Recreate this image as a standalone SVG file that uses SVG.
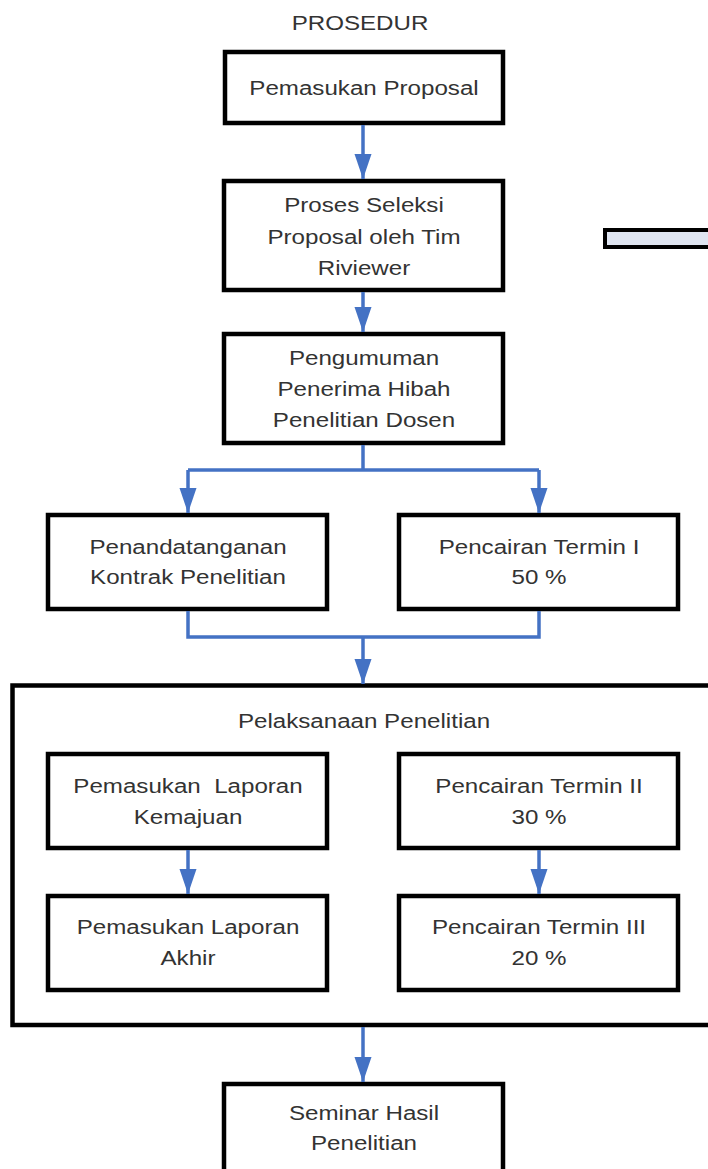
<svg xmlns="http://www.w3.org/2000/svg" width="708" height="1169" viewBox="0 0 708 1169">
<style>
.box{fill:#fff;stroke:#000;stroke-width:4.5}
.t{font-family:"Liberation Sans",Arial,sans-serif;font-size:21px;fill:#333;text-anchor:middle}
.c{fill:none;stroke:#4472C4;stroke-width:3.5}
</style>
<defs>
<marker id="ah" markerUnits="userSpaceOnUse" markerWidth="26" markerHeight="18" refX="25" refY="8.5" orient="auto">
<path d="M0,0 L25,8.5 L0,17 z" fill="#4472C4"/>
</marker>
</defs>
<rect width="708" height="1169" fill="#fff"/>
<g id="title"><text class="t" transform="translate(360,30) scale(1.15 1)">PROSEDUR</text></g>
<g id="container">
<rect class="box" x="12.5" y="685.5" width="710" height="339.5" stroke-width="5"/>
<text class="t" transform="translate(364,728) scale(1.15 1)">Pelaksanaan Penelitian</text>
</g>
<g id="bar"><rect x="605" y="230" width="110" height="17" fill="#dfe5f1" stroke="#000" stroke-width="4"/></g>
<g id="n1"><rect class="box" x="225" y="52" width="278" height="71"/>
<text class="t" transform="translate(364,95) scale(1.15 1)">Pemasukan Proposal</text></g>
<g id="n2"><rect class="box" x="224" y="181" width="279" height="109"/>
<text class="t" transform="translate(364,212) scale(1.15 1)">Proses Seleksi</text>
<text class="t" transform="translate(364,244) scale(1.15 1)">Proposal oleh Tim</text>
<text class="t" transform="translate(364,275) scale(1.15 1)">Riviewer</text></g>
<g id="n3"><rect class="box" x="224" y="334" width="279" height="109"/>
<text class="t" transform="translate(364,365) scale(1.15 1)">Pengumuman</text>
<text class="t" transform="translate(364,396) scale(1.15 1)">Penerima Hibah</text>
<text class="t" transform="translate(364,427) scale(1.15 1)">Penelitian Dosen</text></g>
<g id="n4"><rect class="box" x="48" y="515" width="279" height="94"/>
<text class="t" transform="translate(188,554) scale(1.15 1)">Penandatanganan</text>
<text class="t" transform="translate(188,584) scale(1.15 1)">Kontrak Penelitian</text></g>
<g id="n5"><rect class="box" x="399" y="515" width="279" height="94"/>
<text class="t" transform="translate(539,554) scale(1.15 1)">Pencairan Termin I</text>
<text class="t" transform="translate(539,584) scale(1.15 1)">50 %</text></g>
<g id="n6"><rect class="box" x="48" y="754" width="279" height="94"/>
<text class="t" transform="translate(188,793) scale(1.15 1)" xml:space="preserve">Pemasukan  Laporan</text>
<text class="t" transform="translate(188,824) scale(1.15 1)">Kemajuan</text></g>
<g id="n7"><rect class="box" x="399" y="754" width="279" height="94"/>
<text class="t" transform="translate(539,793) scale(1.15 1)">Pencairan Termin II</text>
<text class="t" transform="translate(539,824) scale(1.15 1)">30 %</text></g>
<g id="n8"><rect class="box" x="48" y="896" width="279" height="94"/>
<text class="t" transform="translate(188,934) scale(1.15 1)">Pemasukan Laporan</text>
<text class="t" transform="translate(188,965) scale(1.15 1)">Akhir</text></g>
<g id="n9"><rect class="box" x="399" y="896" width="279" height="94"/>
<text class="t" transform="translate(539,934) scale(1.15 1)">Pencairan Termin III</text>
<text class="t" transform="translate(539,965) scale(1.15 1)">20 %</text></g>
<g id="n10"><rect class="box" x="224" y="1084" width="279" height="120"/>
<text class="t" transform="translate(364,1120) scale(1.15 1)">Seminar Hasil</text>
<text class="t" transform="translate(364,1150) scale(1.15 1)">Penelitian</text></g>
<g id="connectors">
<path class="c" d="M363,125 V179" marker-end="url(#ah)"/>
<path class="c" d="M363,292 V332" marker-end="url(#ah)"/>
<path class="c" d="M363,445 V470"/>
<path class="c" d="M188,470 H539"/>
<path class="c" d="M188,470 V513" marker-end="url(#ah)"/>
<path class="c" d="M539,470 V513" marker-end="url(#ah)"/>
<path class="c" d="M188,611 V637 H539 V611"/>
<path class="c" d="M363,637 V684" marker-end="url(#ah)"/>
<path class="c" d="M188,850 V894" marker-end="url(#ah)"/>
<path class="c" d="M539,850 V894" marker-end="url(#ah)"/>
<path class="c" d="M363,1027 V1082" marker-end="url(#ah)"/>
</g>
</svg>
